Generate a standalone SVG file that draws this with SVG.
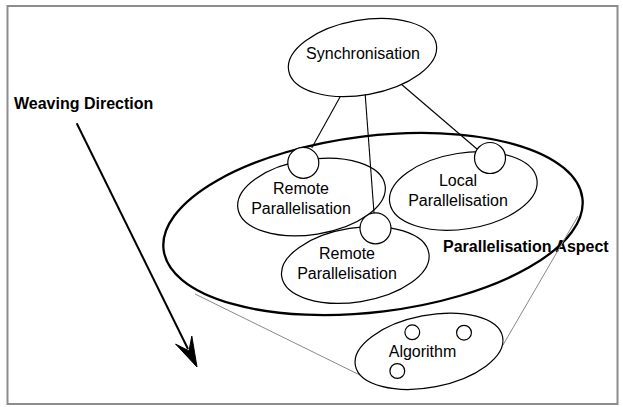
<svg xmlns="http://www.w3.org/2000/svg" width="623" height="407" viewBox="0 0 623 407">
<style>
.n{fill:none;stroke:#000;stroke-width:1.2}
.c{fill:#fff;stroke:#000;stroke-width:1.2}
.t{font-family:"Liberation Sans",Arial,sans-serif;font-size:16px;fill:#000;text-anchor:middle}
.b{font-family:"Liberation Sans",Arial,sans-serif;font-size:16px;font-weight:bold;fill:#000}
.g{stroke:#888;stroke-width:1;fill:none}
.e{stroke:#000;stroke-width:1.1}
</style>
<rect x="7.5" y="6" width="610" height="398" fill="#fff" stroke="#8c8c8c" stroke-width="2"/>
<g id="aspect">
<ellipse cx="373" cy="224" rx="211" ry="88" transform="rotate(-7 373 224)" fill="none" stroke="#000" stroke-width="2.3"/>
<text class="b" x="443" y="252">Parallelisation Aspect</text>
</g>
<g id="cone" class="g">
<line x1="195" y1="294" x2="368" y2="379"/>
<line x1="578" y1="216" x2="503" y2="345"/>
</g>
<g id="remote1">
<ellipse class="n" cx="311.5" cy="197" rx="74.5" ry="37.5" transform="rotate(-9 311.5 197)"/>
<text class="t" x="301" y="194">Remote</text>
<text class="t" x="301" y="214">Parallelisation</text>
</g>
<g id="remote2">
<ellipse class="n" cx="355.3" cy="265" rx="74.5" ry="37" transform="rotate(-9 355.3 265)"/>
<text class="t" x="347" y="259">Remote</text>
<text class="t" x="347" y="279">Parallelisation</text>
</g>
<g id="local">
<ellipse class="n" cx="463.3" cy="191" rx="74.5" ry="38" transform="rotate(-9 463.3 191)"/>
<text class="t" x="458" y="186">Local</text>
<text class="t" x="458" y="206">Parallelisation</text>
</g>
<g id="connectors">
<line class="e" x1="341.7" y1="94" x2="311.7" y2="148"/>
<line class="e" x1="365" y1="92" x2="374" y2="213"/>
<line class="e" x1="399.3" y1="82.5" x2="477" y2="149"/>
</g>
<g id="ports">
<circle class="c" cx="303.3" cy="162.8" r="15.5"/>
<circle class="c" cx="375.5" cy="228.3" r="15.5"/>
<circle class="c" cx="490" cy="158" r="15.5"/>
</g>
<g id="synchronisation">
<ellipse class="c" cx="362.5" cy="57.5" rx="75" ry="37.4" transform="rotate(-10 362.5 57.5)"/>
<text class="t" x="363" y="58.5">Synchronisation</text>
</g>
<g id="algorithm">
<ellipse class="c" cx="429" cy="351.3" rx="75" ry="36" transform="rotate(-11 429 351.3)"/>
<circle class="n" cx="412.3" cy="332.3" r="7.4"/>
<circle class="n" cx="464" cy="332.7" r="7.4"/>
<circle class="n" cx="397.3" cy="371" r="7.4"/>
<text class="t" x="422.5" y="356.5">Algorithm</text>
</g>
<g id="weaving">
<text class="b" x="14" y="109">Weaving Direction</text>
<line x1="76.7" y1="123.3" x2="188" y2="349" stroke="#000" stroke-width="2"/>
<polygon points="197,367 175.6,344.1 189,350.9 191.8,336.1" fill="#000" stroke="#000" stroke-width="1" stroke-linejoin="miter"/>
</g>
</svg>
